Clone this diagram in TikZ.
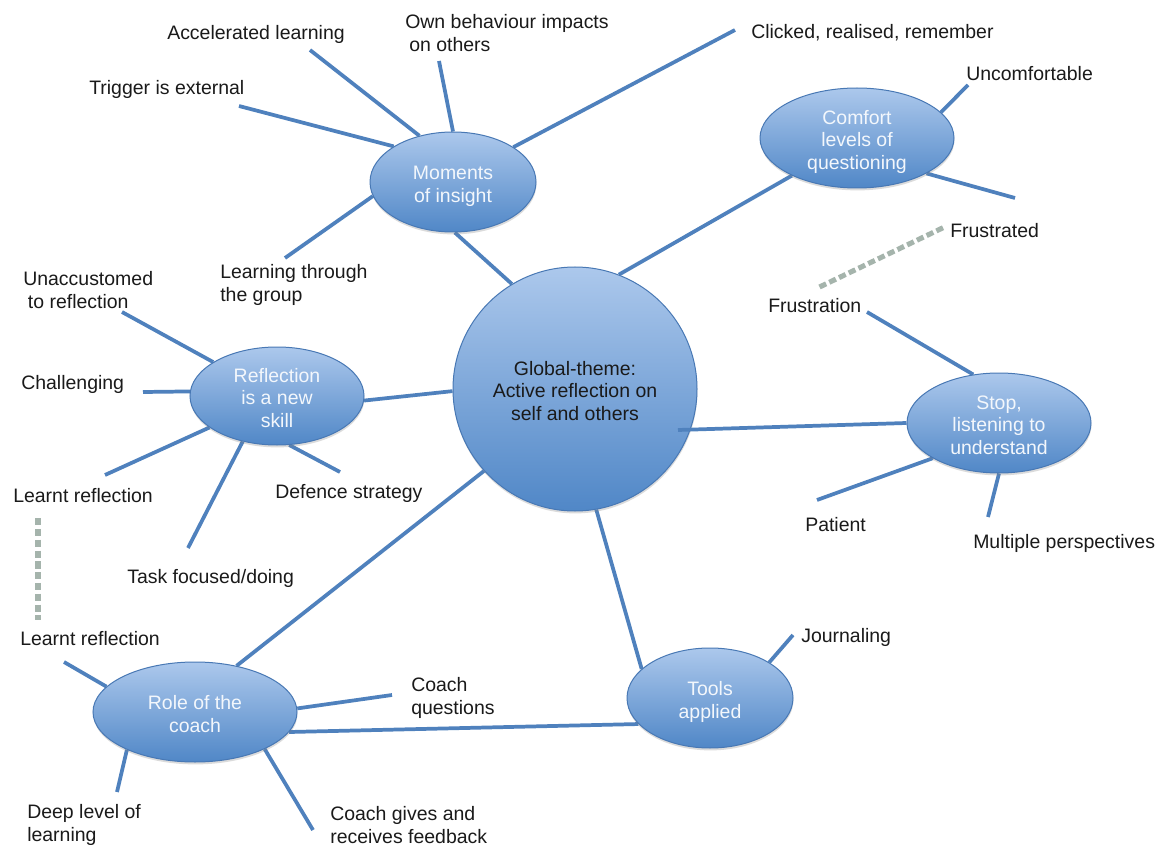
\documentclass[tikz,border=0pt]{standalone}
\usepackage{fontspec}
\setmainfont{Liberation Sans}
\usetikzlibrary{shapes.geometric,shadows,calc,backgrounds}

\definecolor{linkblue}{RGB}{79,129,189}
\definecolor{topblue}{RGB}{172,200,236}
\definecolor{botblue}{RGB}{80,135,199}
\definecolor{rimblue}{RGB}{72,120,180}
\definecolor{dashgray}{RGB}{165,180,172}
\definecolor{inktext}{RGB}{26,26,26}
\definecolor{bubbletext}{RGB}{243,247,252}

\newcommand\lblfont{\fontsize{14.6}{17.25}\selectfont}
\newcommand\bubfont{\fontsize{14.6}{16.6}\selectfont}
% centred stack of lines; its box is padded on top so the text sits a little low
\newcommand\bubtext[1]{\raisebox{0pt}[\dimexpr\height+3.4pt\relax][\dimexpr\depth-3.4pt\relax]{%
  \begin{tabular}{@{}c@{}}#1\end{tabular}}}

\tikzset{
  bubble/.style={ellipse, draw=rimblue, line width=0.75pt,
    top color=topblue, bottom color=botblue, inner sep=0pt,
    text=bubbletext, font=\bubfont,
    drop shadow={opacity=0.28, shadow xshift=0.3pt, shadow yshift=-1.8pt}},
  hub/.style={bubble, circle, text=inktext},
  lbl/.style={inner sep=0pt, anchor=west, yshift=-1.3pt, align=left,
    text=inktext, font=\lblfont},
  link/.style={draw=linkblue, line width=2.8pt},
  hint/.style={draw=dashgray, line width=3.8pt, dash pattern=on 5.5pt off 2.6pt}
}

\begin{document}
\begin{tikzpicture}[x=0.75pt,y=-0.75pt]
\useasboundingbox (0,0) rectangle (1165,845);

% topic bubbles
\node[hub, minimum size=183pt] (central) at (575,389)
  {\bubtext{Global-theme:\\Active reflection on\\self and others}};
\node[bubble, minimum width=124.5pt, minimum height=75pt] (mi) at (453,182) {\bubtext{Moments\\of insight}};
\node[bubble, minimum width=145.5pt, minimum height=75pt] (cl) at (857,138) {\bubtext{Comfort\\levels of\\questioning}};
\node[bubble, minimum width=130.5pt, minimum height=73.5pt] (rs) at (277,396) {\bubtext{Reflection\\is a new\\skill}};
\node[bubble, minimum width=138pt, minimum height=75pt] (st) at (999,423) {\bubtext{Stop,\\listening to\\understand}};
\node[bubble, minimum width=153pt, minimum height=75pt] (rc) at (195,712) {\bubtext{Role of the\\coach}};
\node[bubble, minimum width=124.5pt, minimum height=75pt] (ta) at (710,698) {\bubtext{Tools\\applied}};

% leaf labels
\node[lbl] (acc) at (167,33) {Accelerated learning};
\node[lbl] (own) at (405,31.5) {Own behaviour impacts\\\hspace*{3pt}on others};
\node[lbl] (clk) at (751,31) {Clicked, realised, remember};
\node[lbl] (trg) at (89,88) {Trigger is external};
\node[lbl] (unc) at (966,72) {Uncomfortable};
\node[lbl] (frd) at (950,229) {Frustrated};
\node[lbl] (ltg) at (220,283) {Learning through\\the group};
\node[lbl] (una) at (23,288) {Unaccustomed\\\hspace*{3.5pt}to reflection};
\node[lbl] (frn) at (768,304) {Frustration};
\node[lbl] (chl) at (21,383) {Challenging};
\node[lbl] (lr1) at (13,494) {Learnt reflection};
\node[lbl] (dfs) at (275,492) {Defence strategy};
\node[lbl] (pat) at (805,523) {Patient};
\node[lbl] (mul) at (973,542) {Multiple perspectives};
\node[lbl] (tsk) at (127,577) {Task focused/doing};
\node[lbl] (lr2) at (20,637) {Learnt reflection};
\node[lbl] (jrn) at (801,636) {Journaling};
\node[lbl] (cq) at (411,696) {Coach\\questions};
\node[lbl] (dl) at (27,823) {Deep level of\\learning};
\node[lbl] (cg) at (330,823) {Coach gives and\\receives feedback};

% free ends of the spokes
\coordinate (acc-e) at (310,50);
\coordinate (own-e) at (439,61);
\coordinate (clk-e) at (735,30);
\coordinate (trg-e) at (239,106);
\coordinate (ltg-e) at (285,258);
\coordinate (unc-e) at (968,85);
\coordinate (frd-e) at (1015,198);
\coordinate (frn-e) at (867,312);
\coordinate (pat-e) at (817,500);
\coordinate (mul-e) at (988,517);
\coordinate (una-e) at (122,312);
\coordinate (chl-e) at (143,392);
\coordinate (lr1-e) at (105,475);
\coordinate (tsk-e) at (188,548);
\coordinate (dfs-e) at (340,472);
\coordinate (lr2-e) at (64,662);
\coordinate (cq-e) at (392,695);
\coordinate (dl-e) at (117,792);
\coordinate (cg-e) at (313,830);
\coordinate (jrn-e) at (793,635);
\coordinate (hub-in) at ($(central.center)+(103,41)$);

\begin{scope}[on background layer]
  \fill[white] (0,0) rectangle (1165,845);
  % hub to topics
  \draw[link] (central.121) -- (mi.272);
  \draw[link] (central.69) -- (cl.210);
  \draw[link] (central.181) -- (rs.357);
  \draw[link] (central.222) -- (rc.48);
  \draw[link] (central.280) -- (ta.157);
  \draw[link] (rc.-12) -- (ta.200);
  % moments of insight
  \draw[link] (mi.126) -- (acc-e);
  \draw[link] (mi.90) -- (own-e);
  \draw[link] (mi.30) -- (clk-e);
  \draw[link] (mi.149) -- (trg-e);
  \draw[link] (mi.190) -- (ltg-e);
  % comfort levels
  \draw[link] (cl.17) -- (unc-e);
  \draw[link] (cl.-27) -- (frd-e);
  % stop, listening
  \draw[link] (st.118) -- (frn-e);
  \draw[link] (st.208) -- (pat-e);
  \draw[link] (st.270) -- (mul-e);
  % reflection skill
  \draw[link] (rs.152) -- (una-e);
  \draw[link] (rs.177) -- (chl-e);
  \draw[link] (rs.205) -- (lr1-e);
  \draw[link] (rs.233) -- (tsk-e);
  \draw[link] (rs.284) -- (dfs-e);
  % role of the coach
  \draw[link] (rc.164) -- (lr2-e);
  \draw[link] (rc.2) -- (cq-e);
  \draw[link] (rc.209) -- (dl-e);
  \draw[link] (rc.-28) -- (cg-e);
  % tools applied
  \draw[link] (ta.31) -- (jrn-e);
\end{scope}

\draw[link] (st.180) -- (hub-in);

% dashed hints between related labels
\draw[hint] ($(frd.west)+(-7,-3)$) -- ($(frn.north)+(2,-10)$);
\draw[hint] ($(lr1.south west)+(25,15)$) -- ($(lr2.north west)+(18,-11)$);
\end{tikzpicture}
\end{document}
